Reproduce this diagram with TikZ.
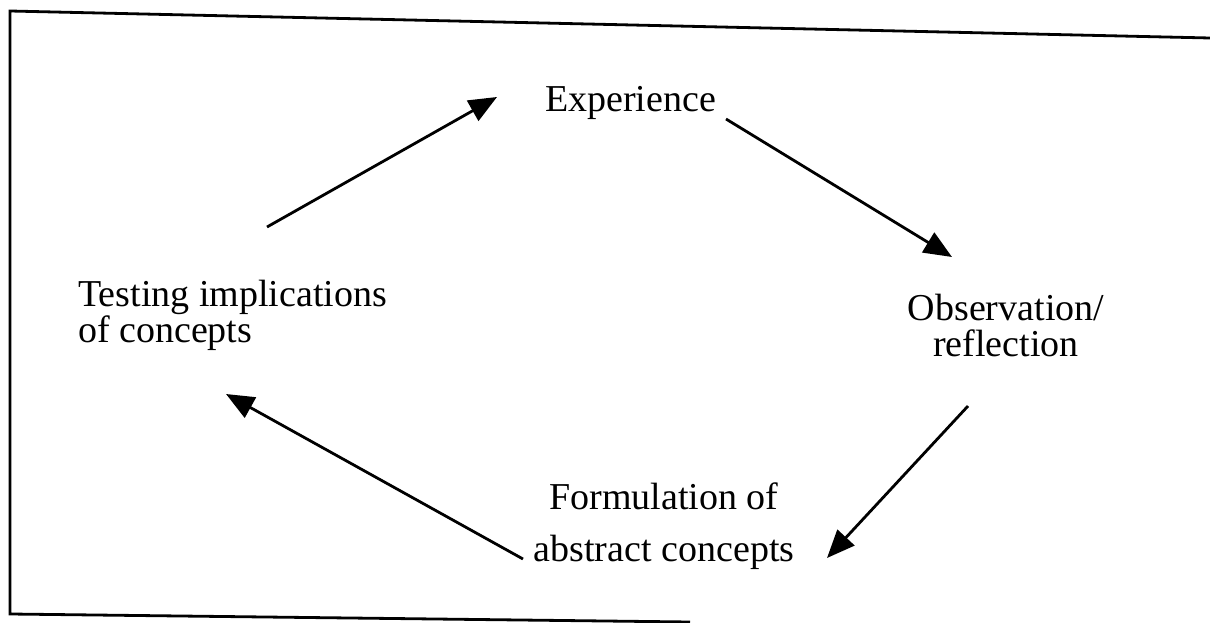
\documentclass[tikz,border=0pt]{standalone}
\usepackage{fontspec}
\setmainfont{Liberation Serif}
\usetikzlibrary{arrows.meta}
\begin{document}
\begin{tikzpicture}[x=1pt,y=-1pt,
  label/.style={inner sep=0pt, font=\fontsize{38}{#1}\selectfont},
  label/.default=37,
  flow/.style={line width=2.8pt, -{Triangle[length=28pt,width=23pt]}},
  frame/.style={line width=2.8pt}]
\useasboundingbox (0,0) rectangle (1210,623);
% open frame around the cycle
\draw[frame] (1210,38) -- (10,11) -- (10,614) -- (690,622);
% stages of the cycle (base anchors sit on the last line)
\node[label, anchor=base west] (exp) at (545,112) {Experience};
\node[label=36, anchor=base west, align=left] (test) at (78,342) {Testing implications\\of concepts};
\node[label=36, anchor=base, align=center] (obs) at (1006,356) {Observation/\\reflection};
\node[label=52, anchor=base, align=center] (form) at (664,561) {Formulation of\\abstract concepts};
% arrow end points
\coordinate (a1) at (267,227); \coordinate (b1) at (497,97);
\coordinate (a2) at (726,119); \coordinate (b2) at (952,257);
\coordinate (a3) at (968,406); \coordinate (b3) at (827,558);
\coordinate (a4) at (523,559); \coordinate (b4) at (226,394);
\draw[flow] (a1) -- (b1);
\draw[flow] (a2) -- (b2);
\draw[flow] (a3) -- (b3);
\draw[flow] (a4) -- (b4);
\end{tikzpicture}
\end{document}
